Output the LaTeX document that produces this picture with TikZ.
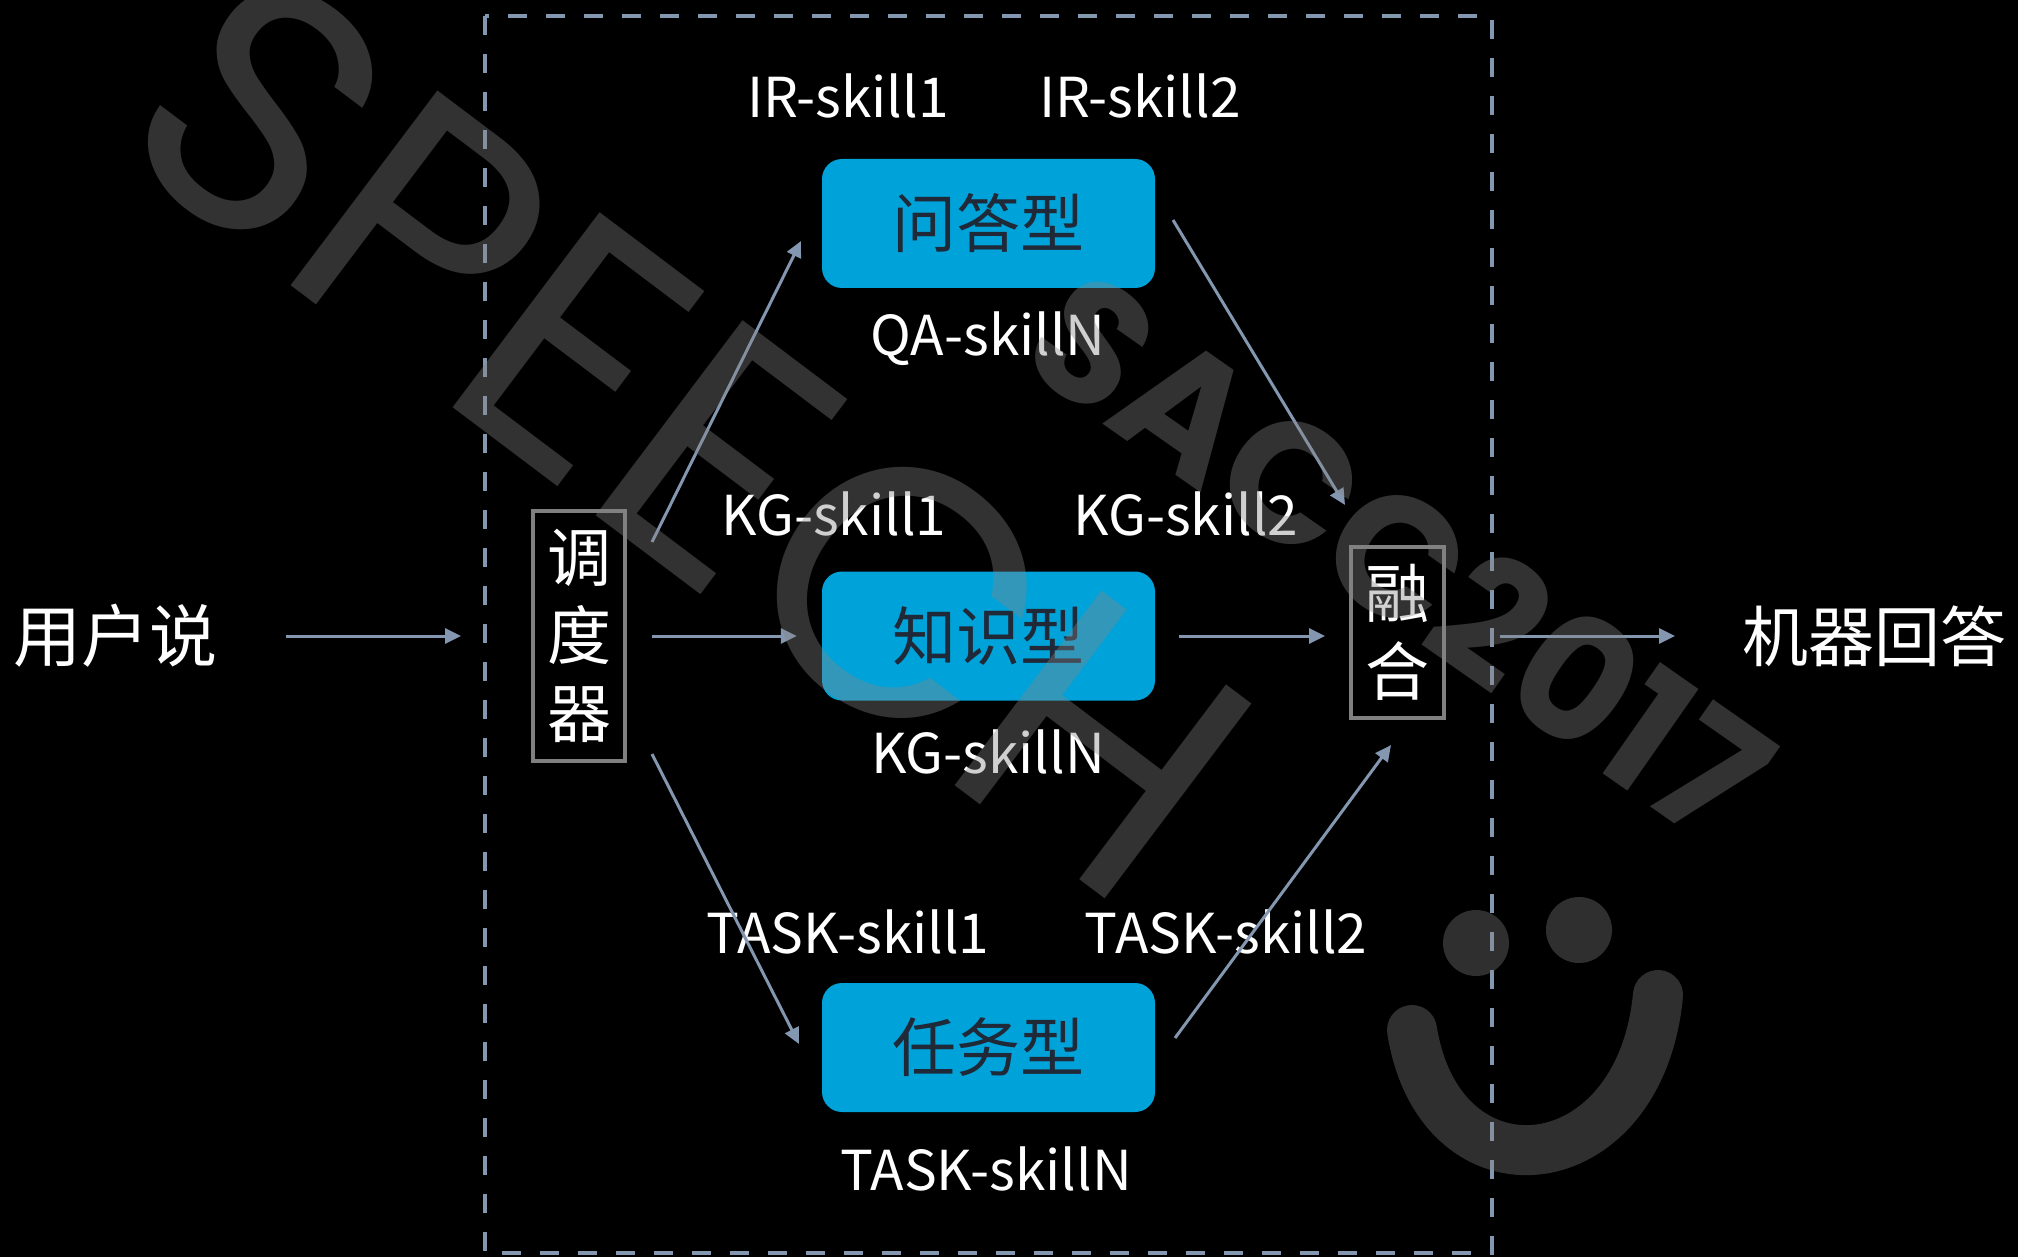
\documentclass[tikz,border=0pt]{standalone}
\usepackage{fontspec}
\setmainfont{Noto Sans CJK SC}
\newfontfamily\wmfont{Poppins}
\usetikzlibrary{arrows.meta}
\definecolor{arrc}{RGB}{132,151,176}
\definecolor{boxblue}{RGB}{0,163,217}
\definecolor{boxtxt}{RGB}{31,41,56}
\definecolor{framec}{RGB}{128,128,128}
\definecolor{wmc}{RGB}{132,132,132}
\tikzset{
  conn/.style={draw=arrc, line width=3pt, -{Triangle[length=16pt,width=15pt]}},
  lbl/.style={text=white, font=\fontsize{55}{66}\selectfont, inner sep=0pt, anchor=base},
  cjk/.style={text=white, font=\fontsize{68}{80}\selectfont, inner sep=0pt},
  skillbox/.style={fill=boxblue, rounded corners=20pt, minimum width=333pt, minimum height=129pt, inner sep=0pt, text=boxtxt, font=\fontsize{64}{76}\selectfont},
  stackbox/.style={draw=framec, line width=4pt, inner sep=0pt, align=center, text=white, font=\fontsize{64}{78}\selectfont},
  dashframe/.style={draw=arrc, line width=4pt, dash pattern=on 19pt off 19pt},
  wmtext/.style={text=wmc, text opacity=0.38, inner sep=0pt},
  wmshape/.style={wmc, opacity=0.36}
}
\begin{document}
\begin{tikzpicture}[x=1pt, y=-1pt]
\fill[black] (0,0) rectangle (2018,1257);
\useasboundingbox (0,0) rectangle (2018,1257);

% outer dashed frame
\draw[dashframe] (485,16) rectangle (1492,1253);

% main nodes
\node[cjk] (user) at (115,636) {用户说};
\node[cjk, font=\fontsize{66}{80}\selectfont] (ans) at (1874,636) {机器回答};
\node[stackbox, minimum width=92pt, minimum height=250pt] (disp) at (579,636) {调\\度\\器};
\node[stackbox, minimum width=93pt, minimum height=171pt] (fuse) at (1397.5,632.5) {融\\合};
\node[skillbox] (qa) at (988.5,223.5) {问答型};
\node[skillbox] (kg) at (988.5,636) {知识型};
\node[skillbox] (task) at (988.5,1047.5) {任务型};

% labels
\node[lbl] (ir1) at (848,118) {IR-skill1};
\node[lbl] (ir2) at (1140,118) {IR-skill2};
\node[lbl] (qan) at (988,355) {QA-skillN};
\node[lbl] (kg1) at (834,535) {KG-skill1};
\node[lbl] (kg2) at (1186,535) {KG-skill2};
\node[lbl] (kgn) at (988,773) {KG-skillN};
\node[lbl] (t1) at (848,953) {TASK-skill1};
\node[lbl] (t2) at (1226,953) {TASK-skill2};
\node[lbl] (tn) at (986,1190) {TASK-skillN};

% connector end points
\coordinate (uA) at (286,636);
\coordinate (uB) at (461,636);
\coordinate (fA) at (1500,636);
\coordinate (fB) at (1675,636);
\coordinate (dqA) at (652,542);
\coordinate (dqB) at (801,241);
\coordinate (qfA) at (1173,220);
\coordinate (qfB) at (1345,505);
\coordinate (dtA) at (652,754);
\coordinate (dtB) at (799,1044);
\coordinate (tfA) at (1175,1038);
\coordinate (tfB) at (1391,745);

% connectors
\draw[conn] (uA) -- (uB);
\draw[conn, shorten <=25pt, shorten >=25pt] (disp.east) -- (kg.west);
\draw[conn, shorten <=24pt, shorten >=24pt] (kg.east) -- (fuse.west |- kg.east);
\draw[conn] (fA) -- (fB);
\draw[conn] (dqA) -- (dqB);
\draw[conn] (qfA) -- (qfB);
\draw[conn] (dtA) -- (dtB);
\draw[conn] (tfA) -- (tfB);

% watermark
\node[wmtext, rotate=-37, font=\wmfont\fontsize{350}{350}\selectfont] (wm1) at (690,433) {SPEECH};
\node[wmtext, rotate=-35, font=\wmfont\bfseries\fontsize{170}{170}\selectfont] (wm2) at (1400,555) {SACC2017};
\fill[wmshape] (1476,943) circle (33pt);
\fill[wmshape] (1579,930) circle (33pt);
\draw[wmshape, line width=50pt, line cap=round] (1412,1030) .. controls (1440,1205) and (1640,1185) .. (1658,995);
\end{tikzpicture}
\end{document}
